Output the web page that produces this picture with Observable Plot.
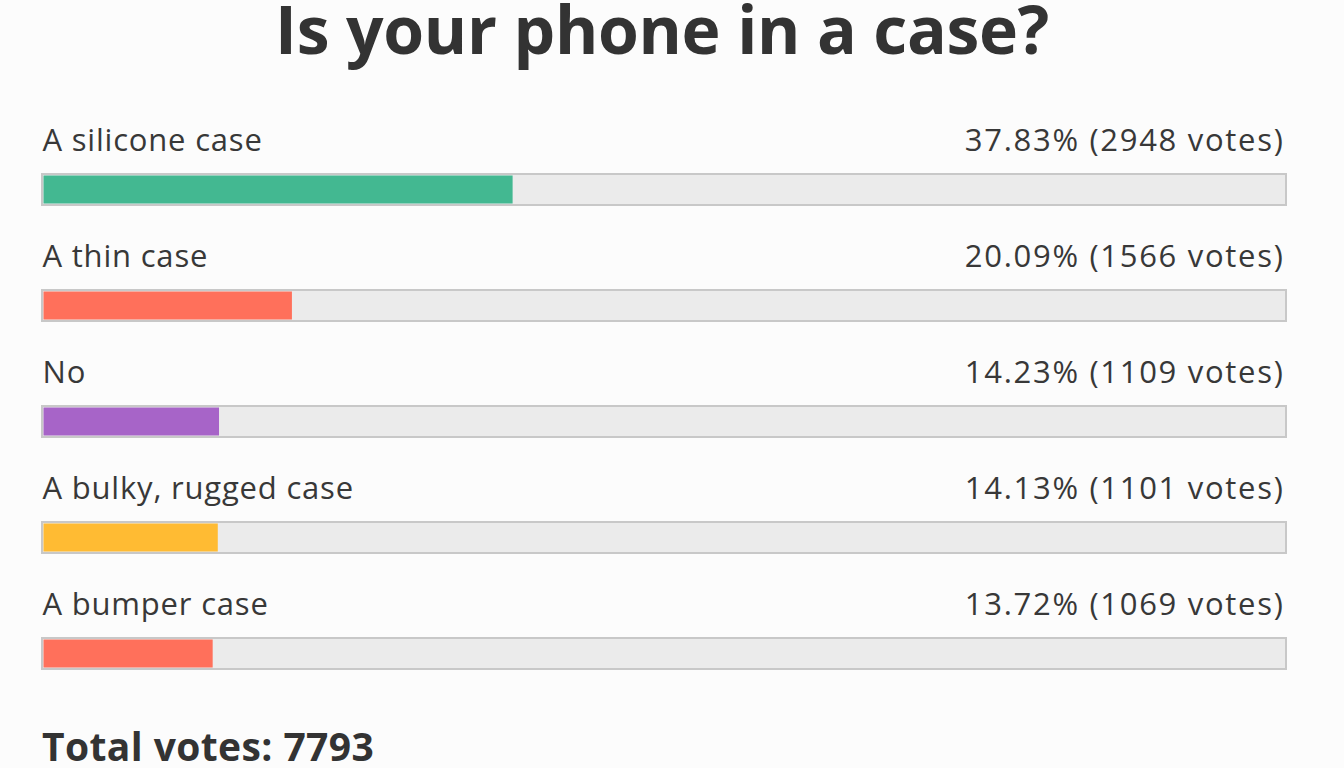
<!DOCTYPE html>
<html>
<head>
<meta charset="utf-8">
<script src="https://cdn.jsdelivr.net/npm/d3@7"></script>
<script src="https://cdn.jsdelivr.net/npm/@observablehq/plot@0.6"></script>
<style>
  html, body { margin: 0; padding: 0; background: #fcfcfc; }
  body { width: 1344px; height: 768px; overflow: hidden; position: relative; font-family: "Open Sans", sans-serif; color: #383838; }
  #title { position: absolute; left: 0; width: 1324px; top: 3px; line-height: 0.78; text-align: center; font-family: "Open Sans", sans-serif; font-weight: 700; font-size: 66px; color: #333; letter-spacing: -0.3px; }
  #chart { position: absolute; left: 0; top: 87px; }
  #chart svg { display: block; }
  #total { position: absolute; left: 42px; top: 731px; line-height: 0.75; font-family: "Open Sans", sans-serif; font-weight: 700; font-size: 39px; letter-spacing: 0.4px; color: #333; }
</style>
</head>
<body>
<div id="title">Is your phone in a case?</div>
<div id="chart"></div>
<div id="total">Total votes: 7793</div>
<script>
const categories = ["A silicone case", "A thin case", "No", "A bulky, rugged case", "A bumper case"];
const percents = [37.83, 20.09, 14.23, 14.13, 13.72];
const votes = [2948, 1566, 1109, 1101, 1069];
const colors = ["#43b891", "#ff705b", "#a764c8", "#ffbb33", "#ff705b"];

const rows = categories.map((c, i) => ({
  option: c, pct: percents[i], votes: votes[i], color: colors[i],
  right: `${percents[i].toFixed(2)}% (${votes[i]} votes)`
}));

const chart = Plot.plot({
  width: 1344,
  height: 583,
  marginLeft: 42,
  marginRight: 58,
  marginTop: 0,
  marginBottom: 0,
  style: { background: "transparent", fontFamily: "'Open Sans', sans-serif" },
  x: { domain: [0, 100], axis: null },
  y: { domain: categories, axis: null, padding: 0 },
  marks: [
    Plot.barX(rows, { x1: 0, x2: 100, y: "option", fill: "#ebebeb", stroke: "#c8c8c8", strokeWidth: 2, insetTop: 85, insetBottom: 0 }),
    Plot.barX(rows, { x1: 0, x2: "pct", y: "option", fill: "color", insetTop: 86.5, insetBottom: 1.5, insetLeft: 1.5 }),
    Plot.text(rows, { x: 0, y: "option", text: "option", textAnchor: "start", dy: -6, fontSize: 31, fill: "#383838" }),
    Plot.text(rows, { x: 100, y: "option", text: "right", textAnchor: "end", dx: -2, dy: -6, fontSize: 31, fill: "#383838" })
  ]
});
chart.querySelectorAll("g[aria-label=text]").forEach((g, i) => {
  g.setAttribute("letter-spacing", i === 0 ? "0.8" : "1.7");
});
document.getElementById("chart").appendChild(chart);
</script>
</body>
</html>
